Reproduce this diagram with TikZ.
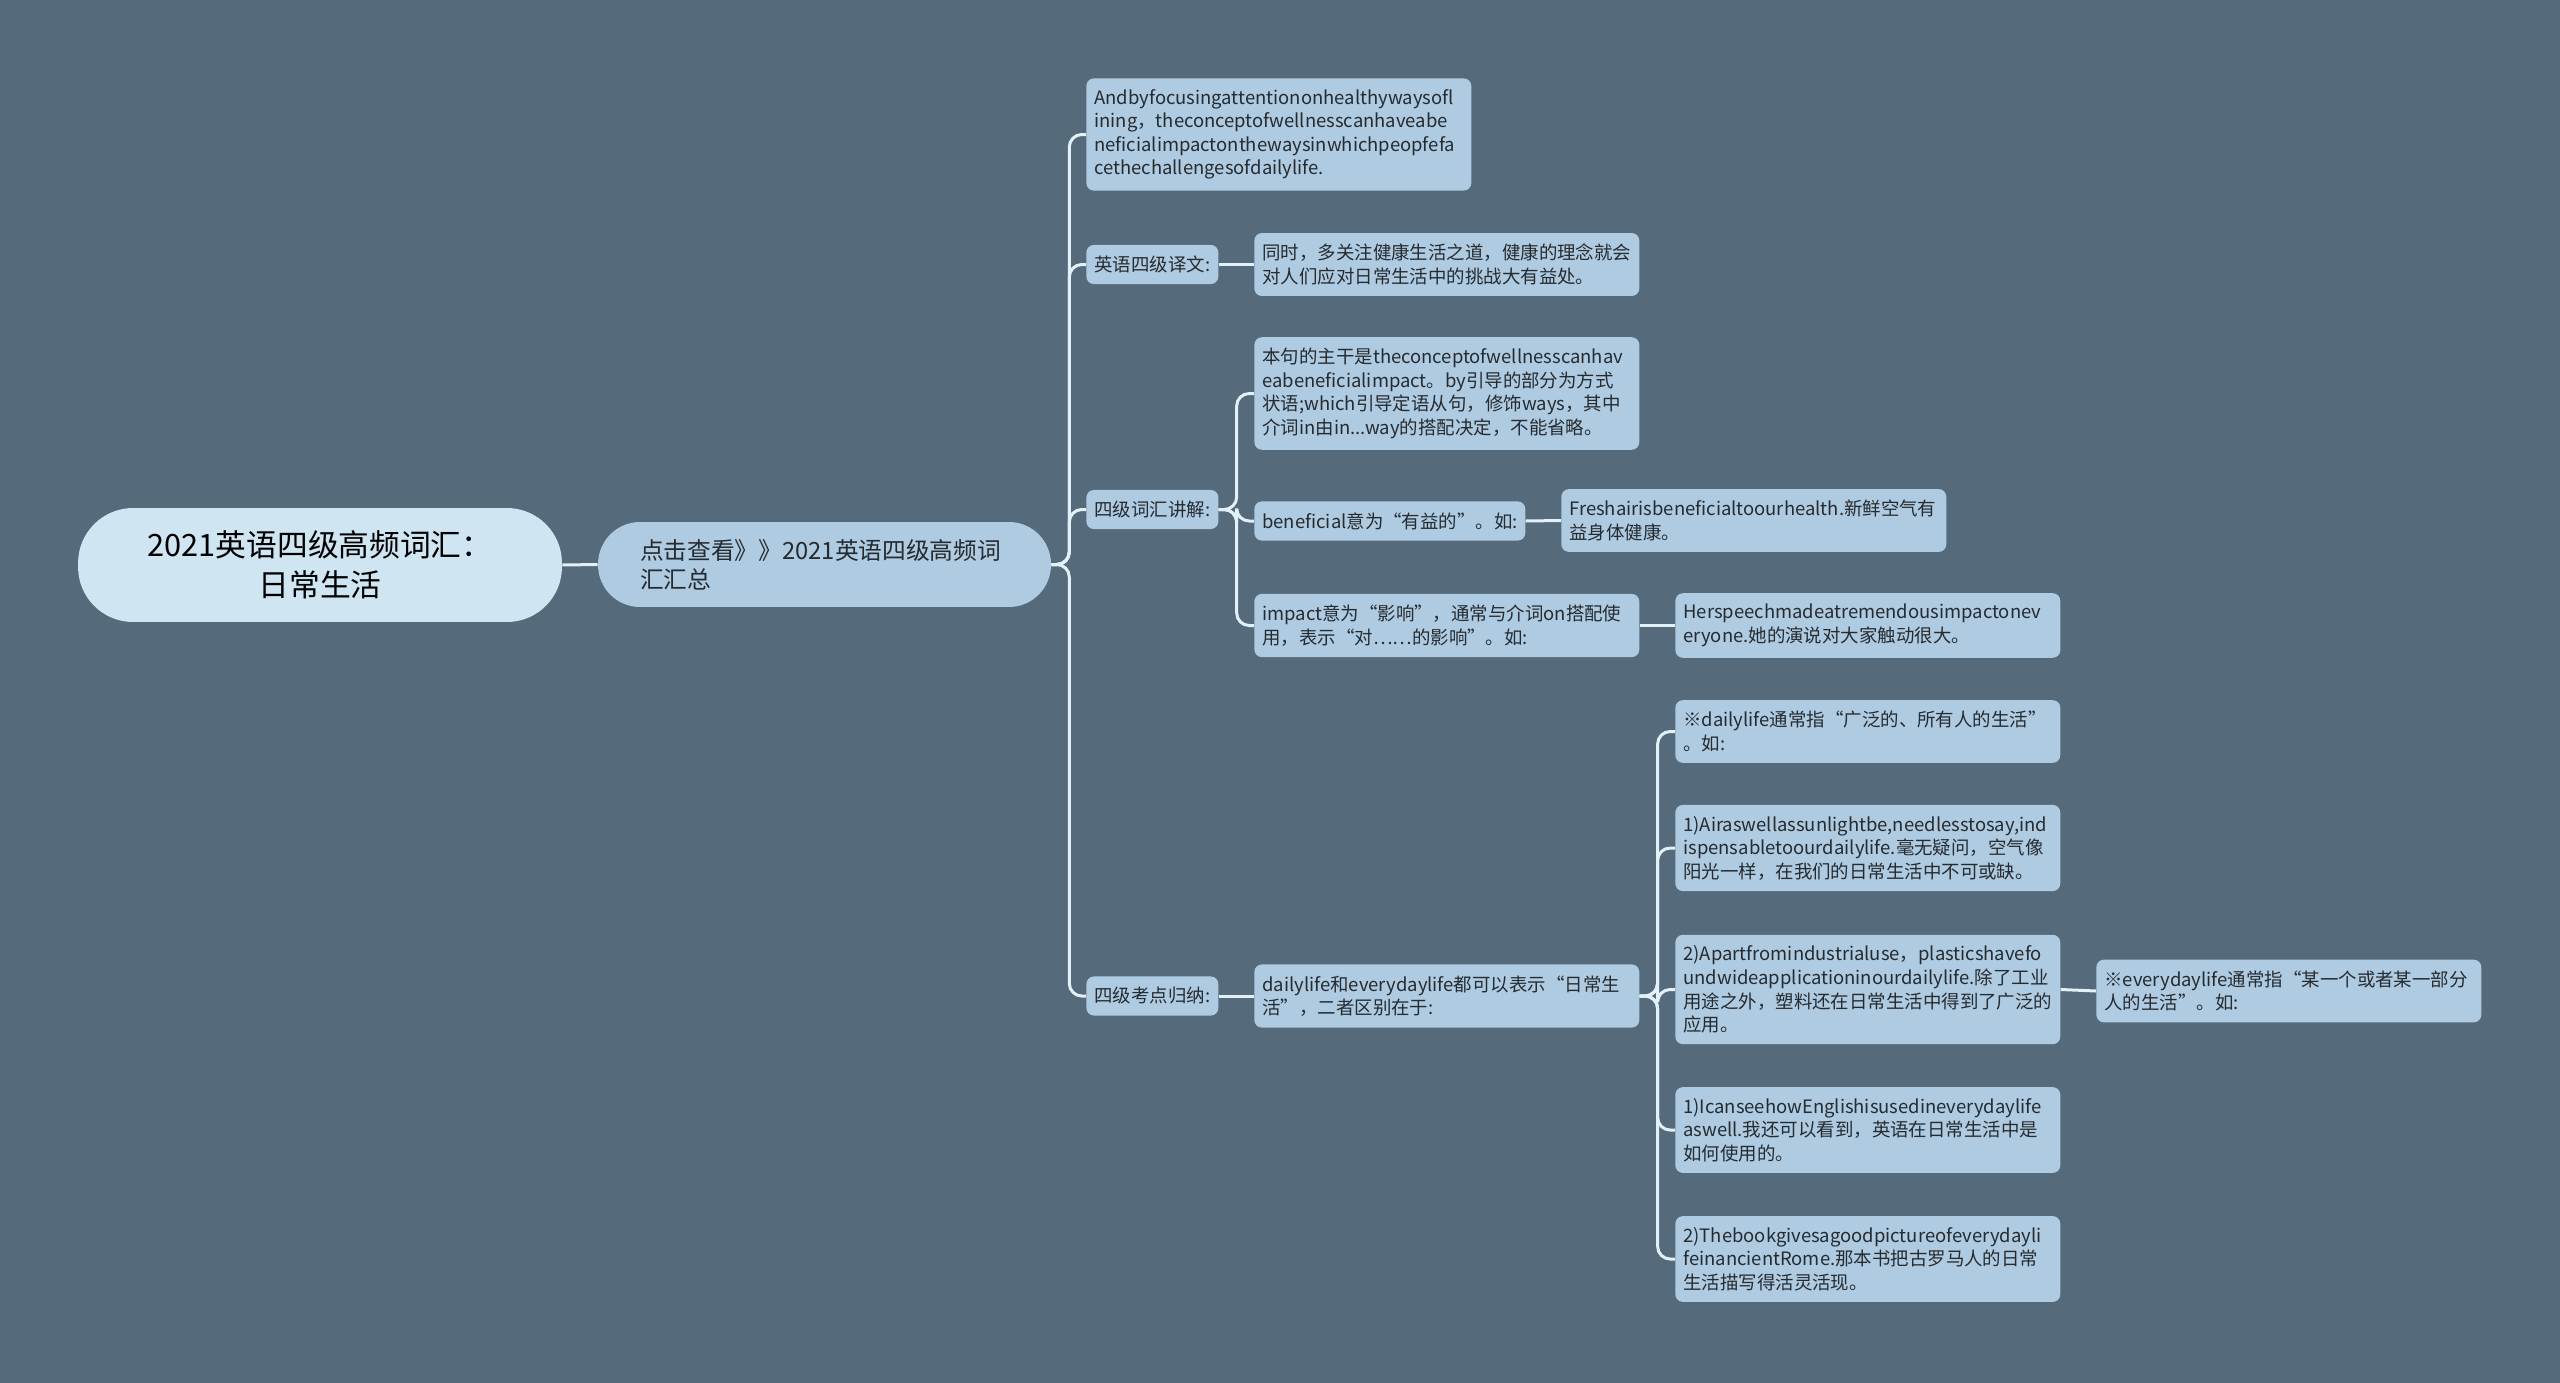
\documentclass[tikz,border=0pt]{standalone}
\usepackage{fontspec}
\setmainfont{Noto Sans CJK SC}
\definecolor{bgcol}{HTML}{556A7A}
\definecolor{boxcol}{HTML}{AECBE1}
\definecolor{rootcol}{HTML}{CFE5F2}
\definecolor{linkcol}{HTML}{E2F0F8}
\definecolor{txtcol}{HTML}{262B30}
\tikzset{
  leaf/.style={fill=boxcol, text=txtcol, rounded corners=0.15cm, anchor=west, align=left,
    inner xsep=0.16cm, inner ysep=0.22cm, font=\fontsize{10.5}{13.4}\selectfont},
  wide/.style={leaf, text width=7.38cm},
  label/.style={leaf, text width=2.32cm},
  link/.style={draw=linkcol, line width=0.06cm, rounded corners=0.25cm},
}
\begin{document}
\begin{tikzpicture}[x=0.02cm, y=-0.02cm]
	\fill[bgcol] (0,0) rectangle (2560,1383);
	\useasboundingbox (0,0) rectangle (2560,1383);
	% centre and first branch
	\node[fill=rootcol, text=black, rounded corners=1.1cm, minimum width=9.68cm, minimum height=2.28cm,
		align=center, font=\fontsize{17.5}{23}\selectfont] (root) at (320,565) {2021英语四级高频词汇：\\日常生活};
	\node[fill=boxcol, text=txtcol, rounded corners=0.84cm, minimum width=9.06cm, minimum height=1.7cm,
		text width=7.38cm, align=left, font=\fontsize{13.5}{16.7}\selectfont] (sub) at (824.5,564.5) {点击查看》》2021英语四级高频词\\汇汇总};
	% second level
	\node[wide] (andby) at (1086,134.5) {Andbyfocusingattentiononhealthywaysofl\\ining，theconceptofwellnesscanhaveabe\\neficialimpactonthewaysinwhichpeopfefa\\cethechallengesofdailylife.};
	\node[label] (yiwen) at (1086,264.5) {英语四级译文:};
	\node[label] (cihui) at (1086,509.5) {四级词汇讲解:};
	\node[label] (kaodian) at (1086,996) {四级考点归纳:};
	% third level
	\node[wide] (tongshi) at (1254,264.5) {同时，多关注健康生活之道，健康的理念就会\\对人们应对日常生活中的挑战大有益处。};
	\node[wide] (zhugan) at (1254,393.5) {本句的主干是theconceptofwellnesscanhav\\eabeneficialimpact。by引导的部分为方式\\状语;which引导定语从句，修饰ways，其中\\介词in由in...way的搭配决定，不能省略。};
	\node[leaf, text width=5.1cm] (beneficial) at (1254,521) {beneficial意为“有益的”。如:};
	\node[wide] (freshair) at (1561,520.5) {Freshairisbeneficialtoourhealth.新鲜空气有\\益身体健康。};
	\node[wide] (impact) at (1254,625.5) {impact意为“影响”，通常与介词on搭配使\\用，表示“对……的影响”。如:};
	\node[wide] (herspeech) at (1675,625.5) {Herspeechmadeatremendousimpactonev\\eryone.她的演说对大家触动很大。};
	\node[wide] (dailylife) at (1254,996) {dailylife和everydaylife都可以表示“日常生\\活”，二者区别在于:};
	% daily life / everyday life examples
	\node[wide] (dl1) at (1675,731.5) {※dailylife通常指“广泛的、所有人的生活”\\。如:};
	\node[wide] (air) at (1675,848) {1)Airaswellassunlightbe,needlesstosay,ind\\ispensabletoourdailylife.毫无疑问，空气像\\阳光一样，在我们的日常生活中不可或缺。};
	\node[wide] (apart) at (1675,989.5) {2)Apartfromindustrialuse，plasticshavefo\\undwideapplicationinourdailylife.除了工业\\用途之外，塑料还在日常生活中得到了广泛的\\应用。};
	\node[wide] (ican) at (1675,1130) {1)IcanseehowEnglishisusedineverydaylife\\aswell.我还可以看到，英语在日常生活中是\\如何使用的。};
	\node[wide] (book) at (1675,1259) {2)Thebookgivesagoodpictureofeverydayli\\feinancientRome.那本书把古罗马人的日常\\生活描写得活灵活现。};
	\node[wide] (everyday) at (2096,991) {※everydaylife通常指“某一个或者某一部分\\人的生活”。如:};
	% connectors
	\draw[link] (root.east) -- (sub.west);
	\foreach \c in {andby,yiwen,cihui,kaodian}
		\draw[link] (sub.east) -- ++(18,0) |- (\c.west);
	\draw[link] (yiwen.east) -- (tongshi.west);
	\foreach \c in {zhugan,beneficial,impact}
		\draw[link] (cihui.east) -- ++(18,0) |- (\c.west);
	\draw[link] (beneficial.east) -- (freshair.west);
	\draw[link] (impact.east) -- (herspeech.west);
	\draw[link] (kaodian.east) -- (dailylife.west);
	\foreach \c in {dl1,air,apart,ican,book}
		\draw[link] (dailylife.east) -- ++(18,0) |- (\c.west);
	\draw[link] (apart.east) -- (everyday.west);
\end{tikzpicture}
\end{document}
